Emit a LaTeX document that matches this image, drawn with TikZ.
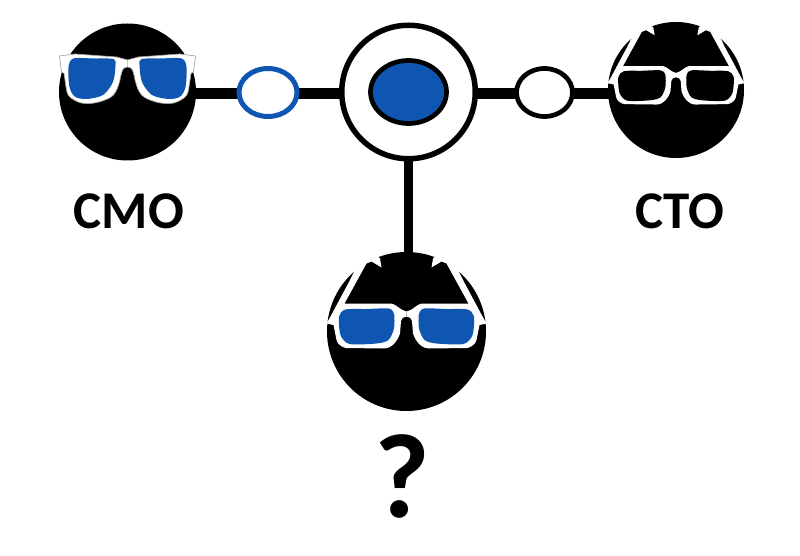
\documentclass[tikz,border=0pt]{standalone}
\usepackage{fontspec}
\setmainfont{Carlito}
\usetikzlibrary{shapes.geometric,backgrounds}
\definecolor{lensblue}{HTML}{0F56B3}
\tikzstyle{head}=[circle, fill=black, inner sep=0pt]
\tikzstyle{link}=[line width=11pt, black]
\tikzstyle{title}=[font=\bfseries\fontsize{53}{60}\selectfont, inner sep=0pt]
\tikzset{
	geek/.pic={
		\foreach \s in {1,-1} {
			\begin{scope}[xscale=\s]
				% Frame and arm
				\fill[white] (-80,-8) -- (-76,-15) -- (-57,-50.5) -- (-45,-75) -- (-35,-80) -- (-26.5,-73) -- (-25,-64) -- (-35,-70) -- (-40,-68) -- (-62,-28) -- (-15,-28) .. controls (-10,-27) and (-6,-21) .. (0,-20) -- (0,-15) .. controls (-3,-15) and (-5,-13) .. (-5.5,-10.5) -- (-6.5,2) .. controls (-9,9) and (-14,17) .. (-23,17) -- (-61,16.5) .. controls (-66,15) and (-69,12) .. (-70,8.5) -- (-73,-6.5) -- cycle;
				% Lens
				\fill[#1] plot[smooth cycle, tension=0.45] coordinates {(-61,-22) (-40,-22.5) (-18,-23) (-12.5,-18) (-12.5,-3) (-18,8.5) (-30,12) (-57,12.5) (-66,3.5) (-67.5,-15)};
			\end{scope}
		}
	},
	shades/.pic={
		\foreach \s in {1,-1} {
			\begin{scope}[xscale=\s]
				\path[fill=white, draw=black!35, line width=0.7pt] (0,-32) -- (-11,-35) -- (-52.5,-38) -- (-68,-36) -- (-66,-20) -- (-63.5,-18.7) -- (-61,-2) .. controls (-60,3) and (-58,5) .. (-56,6.3) .. controls (-52,9) and (-48,11) .. (-44,11.3) .. controls (-38,12) and (-32,11) .. (-27.5,9.7) .. controls (-22,8) and (-17,6) .. (-14,3) .. controls (-10,-2) and (-9,-7) .. (-7.5,-12) .. controls (-7,-16) and (-6,-19) .. (-5,-22) .. controls (-4,-24) and (-2,-25) .. (0,-25);
				\fill[#1] plot[smooth cycle, tension=0.5] coordinates {(-54,-33.5) (-33,-33.5) (-14,-33) (-12,-27) (-14.5,-10) (-24.5,3) (-41,7) (-52.5,4.7) (-58,-5) (-59,-25)};
			\end{scope}
		}
	}
}

\begin{document}
\begin{tikzpicture}[x=1pt, y=-1pt]
	\useasboundingbox (0,0) rectangle (800,556);

	\node[head, minimum size=137pt] (cmo) at (127.5, 92) {};
	\node[head, minimum size=136pt] (cto) at (676, 90) {};
	\node[head, minimum size=159pt] (who) at (406.5, 331.5) {};

	\node[circle, draw, fill=white, line width=5.5pt, minimum size=133.5pt, inner sep=0pt] (ring) at (408.5, 92) {};
	\node[ellipse, draw, fill=lensblue, line width=4.7pt, minimum width=76pt, minimum height=63pt, inner sep=0pt] (core) at (408.5, 92) {};
	\node[ellipse, draw=lensblue, fill=white, line width=5pt, minimum width=58pt, minimum height=48pt, inner sep=0pt] (left) at (268, 92.5) {};
	\node[ellipse, draw, fill=white, line width=4.7pt, minimum width=56pt, minimum height=48pt, inner sep=0pt] (right) at (544.5, 92.5) {};

	\begin{pgfonlayer}{background}
		% Horizontal
		\draw[link] ([yshift=-2pt]cmo.center) -- ([yshift=-1.5pt]left.center);
		\draw[link] ([yshift=-1.5pt]left.center) -- ([yshift=-2pt]ring.center);
		\draw[link] ([yshift=-2pt]ring.center) -- ([yshift=-1.5pt]right.center);
		\draw[link] ([yshift=-1.5pt]right.center) -- ([yshift=-4pt]cto.center);
		% Vertical
		\draw[link, line width=9pt] (ring.center) -- (ring.center |- who.center);
	\end{pgfonlayer}

	\pic at (cmo) {shades=lensblue};
	\pic[scale=0.855] at (cto) {geek=black};
	\pic at (who) {geek=lensblue};

	\node[title] (cmotext) at (129, 211) {CMO};
	\node[title] (ctotext) at (680, 211) {CTO};
	\node[title, font=\bfseries\fontsize{120}{130}\selectfont] (whotext) at (402, 476) {?};
\end{tikzpicture}
\end{document}
